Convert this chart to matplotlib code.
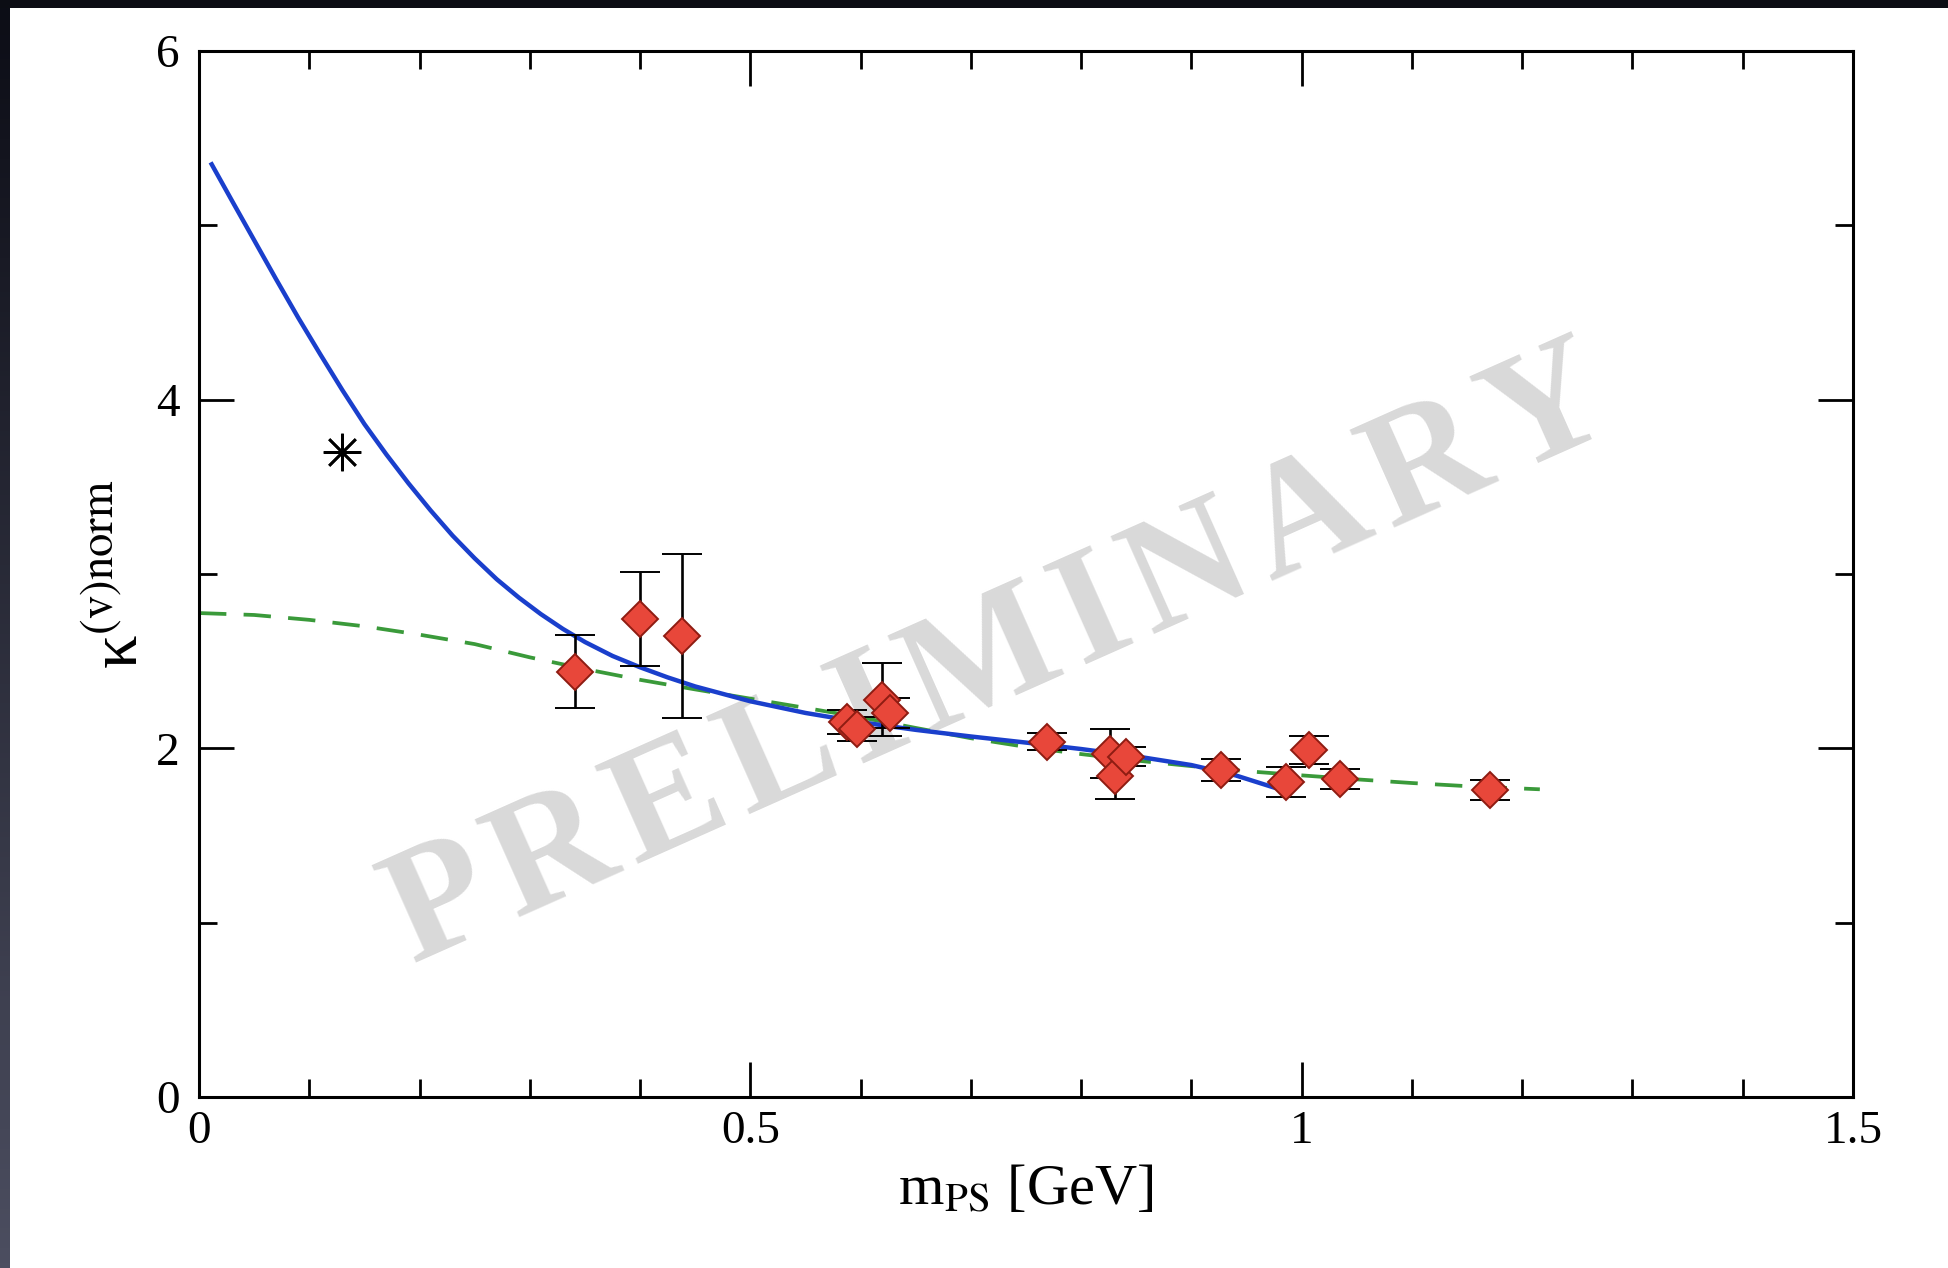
import numpy as np
import matplotlib
matplotlib.use("Agg")
import matplotlib.pyplot as plt
from matplotlib.ticker import MultipleLocator, FixedLocator, FixedFormatter
from matplotlib.colors import LinearSegmentedColormap

plt.rcParams['font.family'] = ['Liberation Serif', 'DejaVu Serif']
plt.rcParams['mathtext.fontset'] = 'stix'

# ---- data ----
# lattice points: m_PS [GeV], kappa, error
pt_x = [0.341, 0.400, 0.438, 0.588, 0.597, 0.619, 0.627, 0.769, 0.826, 0.831,
        0.841, 0.927, 0.986, 1.007, 1.035, 1.171]
pt_y = [2.44, 2.74, 2.643, 2.15, 2.11, 2.278, 2.20, 2.039, 1.97, 1.84,
        1.952, 1.876, 1.809, 1.991, 1.824, 1.761]
pt_err = [0.21, 0.27, 0.47, 0.07, 0.07, 0.21, 0.086, 0.05, 0.14, 0.13,
          0.055, 0.065, 0.086, 0.08, 0.06, 0.058]

# physical point (asterisk)
star_x = [0.130]
star_y = [3.70]

# blue solid fit curve
fit_x = [0.0115, 0.03, 0.05, 0.07, 0.09, 0.11, 0.13, 0.15, 0.17, 0.19,
         0.21, 0.23, 0.25, 0.27, 0.29, 0.31, 0.33, 0.35, 0.375, 0.40,
         0.425, 0.45, 0.50, 0.55, 0.60, 0.65, 0.70, 0.75, 0.80, 0.85,
         0.90, 0.94, 0.975]
fit_y = [5.35, 5.14, 4.915, 4.69, 4.47, 4.26, 4.055, 3.86, 3.685, 3.52,
         3.365, 3.22, 3.09, 2.97, 2.865, 2.77, 2.685, 2.61, 2.53, 2.465,
         2.407, 2.355, 2.27, 2.203, 2.15, 2.106, 2.068, 2.033, 1.996,
         1.954, 1.904, 1.845, 1.775]

# green dashed curve
alt_x = [0.0, 0.05, 0.10, 0.15, 0.20, 0.25, 0.30, 0.35, 0.40, 0.45, 0.50,
         0.55, 0.60, 0.65, 0.70, 0.75, 0.80, 0.85, 0.90, 0.95, 1.00, 1.05,
         1.10, 1.15, 1.216]
alt_y = [2.776, 2.765, 2.737, 2.700, 2.652, 2.598, 2.522, 2.455, 2.393,
         2.338, 2.285, 2.232, 2.178, 2.117, 2.058, 2.008, 1.967, 1.930,
         1.898, 1.869, 1.845, 1.822, 1.801, 1.783, 1.765]

x_ticks = [0, 0.5, 1, 1.5]
x_ticklabels = ["0", "0.5", "1", "1.5"]
y_ticks = [0, 2, 4, 6]
y_ticklabels = ["0", "2", "4", "6"]

W, H = 1948, 1268
fig = plt.figure(figsize=(W / 100, H / 100), dpi=100)
fig.patch.set_facecolor('white')

# dark slide border (left and top)
lax = fig.add_axes([0, 0, 10 / W, 1])
grad = np.linspace(0, 1, 256).reshape(-1, 1)
cm = LinearSegmentedColormap.from_list('edge', ['#4c4e60', '#0c0d16'])
lax.imshow(grad, aspect='auto', cmap=cm, origin='lower', extent=[0, 1, 0, 1])
lax.set_axis_off()
tax = fig.add_axes([0, 1 - 8 / H, 1, 8 / H])
tax.set_facecolor('#0c0d14')
tax.set_xticks([]); tax.set_yticks([])
for s in tax.spines.values():
    s.set_visible(False)

ax = fig.add_axes([199 / W, 1 - 1097 / H, (1853 - 199) / W, (1097 - 51) / H])
ax.set_xlim(0, 1.5)
ax.set_ylim(0, 6)

# watermark
ax.text(1015 / W, 1 - 695 / H,
        "P\u200aR\u200aE\u200aL\u200aI\u200aM\u200aI\u200aN\u200aA\u200aR\u200aY",
        transform=fig.transFigure, rotation=24, rotation_mode='anchor',
        ha='center', va='baseline', fontsize=117, fontweight='bold',
        color='#d9d9d9', family=['Liberation Serif', 'DejaVu Serif'], zorder=0.5)

ax.plot(alt_x, alt_y, color='#3a9a3a', lw=2.7, ls=(0, (7.3, 4.6)), zorder=2)
ax.plot(fit_x, fit_y, color='#1a3fcc', lw=3.2, zorder=2.5,
        solid_joinstyle='round')

ax.errorbar(pt_x, pt_y, yerr=pt_err, fmt='D', ms=18, mfc='#e8473a',
            mec='#8e1c12', mew=1.4, ecolor='black', elinewidth=1.9,
            capsize=14.5, capthick=1.9, zorder=3)

ax.plot(star_x, star_y, ls='none', marker=(8, 2, 0), ms=27, mew=1.9,
        color='black', zorder=3)

# axes styling
for s in ax.spines.values():
    s.set_linewidth(2.2)
ax.xaxis.set_major_locator(FixedLocator(x_ticks))
ax.xaxis.set_major_formatter(FixedFormatter(x_ticklabels))
ax.yaxis.set_major_locator(FixedLocator(y_ticks))
ax.yaxis.set_major_formatter(FixedFormatter(y_ticklabels))
ax.xaxis.set_minor_locator(MultipleLocator(0.1))
ax.yaxis.set_minor_locator(MultipleLocator(1))
ax.tick_params(which='both', direction='in', top=True, right=True, width=2.0,
               colors='black')
ax.tick_params(which='major', length=25, labelsize=34)
ax.tick_params(which='minor', length=13)
ax.tick_params(axis='y', which='major', pad=14)
ax.tick_params(axis='x', which='major', pad=10)

ax.set_xlabel(r"m$_{\mathrm{PS}}$ [GeV]", fontsize=42, labelpad=8)
ax.set_ylabel("\u03ba$^{\\mathrm{(v)norm}}$", fontsize=48, labelpad=3)

fig.savefig("out.png", dpi=100, facecolor='white')
